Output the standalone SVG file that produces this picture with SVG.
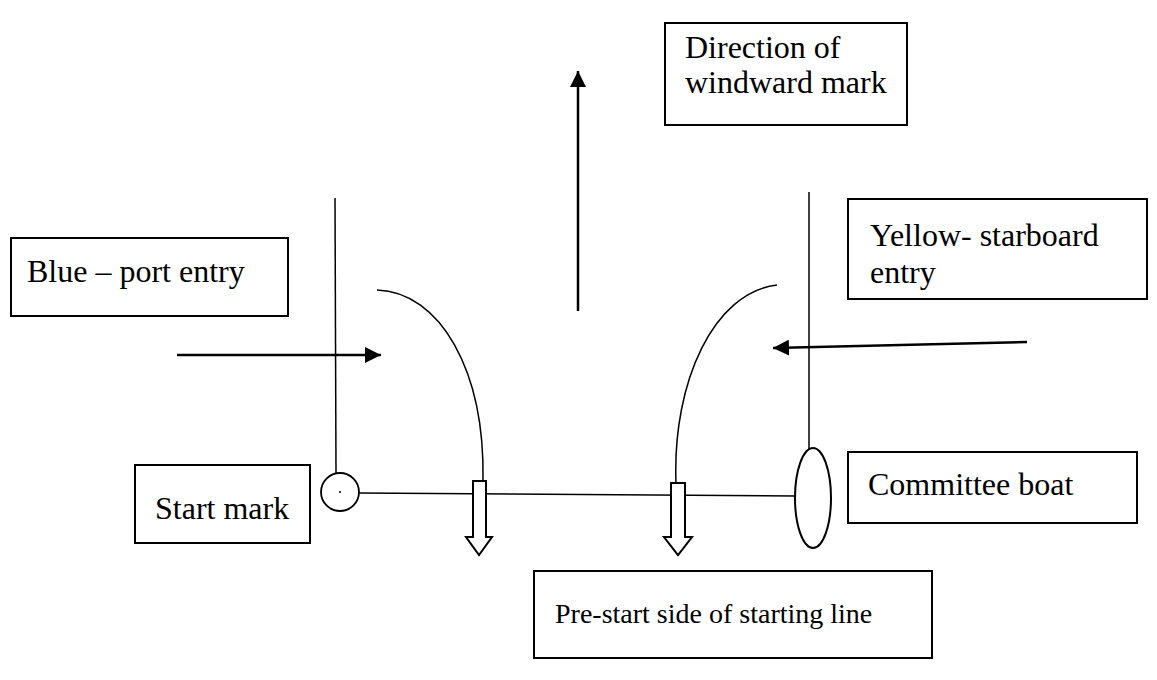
<svg xmlns="http://www.w3.org/2000/svg" width="1157" height="680" viewBox="0 0 1157 680">
<defs>
<marker id="ahb" viewBox="0 0 16 16" refX="16" refY="8" markerWidth="16" markerHeight="16" markerUnits="userSpaceOnUse" orient="auto">
<path d="M0,0 L16,8 L0,16 Z" fill="#000"/>
</marker>
</defs>
<style>
.box{fill:#fff;stroke:#000;stroke-width:2}
.t{font-family:"Liberation Serif","Times New Roman",serif;font-size:32px;fill:#000}
.ts{font-size:28px}
.ln{fill:none;stroke:#000;stroke-width:1.5}
.ar{fill:none;stroke:#000;stroke-width:2.5}
.hol{fill:#fff;stroke:#000;stroke-width:2}
</style>
<g id="connectors">
<line class="ln" x1="335" y1="198" x2="336" y2="473"/>
<line class="ln" x1="809" y1="192" x2="809" y2="449"/>
<line class="ln" x1="359" y1="493" x2="796" y2="496"/>
<path class="ln" d="M377,290 C440,292 485,370 483,481"/>
<path class="ln" d="M777,285 C715,292 672,380 676,484"/>
<line class="ar" x1="578" y1="311" x2="578" y2="71" marker-end="url(#ahb)"/>
<line class="ar" x1="177" y1="355" x2="381" y2="355" marker-end="url(#ahb)"/>
<line class="ar" x1="1027" y1="342" x2="773" y2="348" marker-end="url(#ahb)"/>
</g>
<g id="start-mark-buoy">
<circle cx="340" cy="492" r="19" fill="#fff" stroke="#000" stroke-width="1.8"/>
<circle cx="340" cy="492" r="1" fill="#000"/>
</g>
<g id="committee-boat-shape">
<ellipse cx="813" cy="498" rx="18" ry="50" fill="#fff" stroke="#000" stroke-width="2"/>
</g>
<g id="hollow-arrow-1">
<path class="hol" d="M473,481 L486,481 L486,537 L492,537 L479,555 L466,537 L473,537 Z"/>
</g>
<g id="hollow-arrow-2">
<path class="hol" d="M671,483 L685,483 L685,537 L692,537 L678,555 L664,537 L671,537 Z"/>
</g>
<g id="box-direction">
<rect class="box" x="665" y="23" width="242" height="102"/>
<text class="t" x="685" y="58">Direction of</text>
<text class="t" x="685" y="93">windward mark</text>
</g>
<g id="box-blue">
<rect class="box" x="11" y="238" width="277" height="78"/>
<text class="t" x="27" y="282">Blue – port entry</text>
</g>
<g id="box-yellow">
<rect class="box" x="848" y="199" width="299" height="100"/>
<text class="t" x="870" y="246">Yellow- starboard</text>
<text class="t" x="870" y="283">entry</text>
</g>
<g id="box-start">
<rect class="box" x="135" y="465" width="175" height="78"/>
<text class="t" x="155" y="519">Start mark</text>
</g>
<g id="box-committee">
<rect class="box" x="848" y="452" width="289" height="71"/>
<text class="t" x="868" y="495">Committee boat</text>
</g>
<g id="box-prestart">
<rect class="box" x="534" y="571" width="398" height="87"/>
<text class="t ts" x="555" y="623">Pre-start side of starting line</text>
</g>
</svg>
